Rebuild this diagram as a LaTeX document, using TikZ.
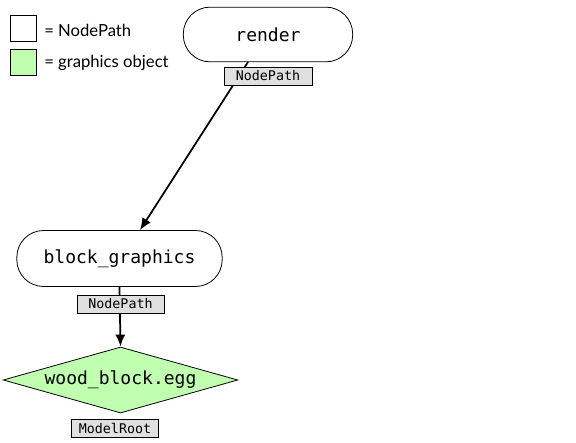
\documentclass[tikz,border=0pt]{standalone}
\usepackage{fontspec}
\setmainfont{Lato}
\setmonofont{DejaVu Sans Mono}
\usetikzlibrary{shapes.geometric,arrows.meta}
\definecolor{gobj}{HTML}{C0FFB0}
\definecolor{lblgray}{HTML}{E0E0E0}
\begin{document}
\begin{tikzpicture}[x=0.75pt,y=-0.75pt,
  pathnode/.style={draw,line width=0.6pt,fill=white,rectangle,rounded corners=20pt,minimum width=127pt,minimum height=41pt,font=\ttfamily\fontsize{13.5}{15}\selectfont,inner sep=0pt},
  gnode/.style={draw,line width=0.6pt,fill=gobj,diamond,aspect=3.56,minimum width=176pt,minimum height=49.5pt,inner sep=0pt,font=\ttfamily\fontsize{13.5}{15}\selectfont},
  tag/.style={draw,line width=0.5pt,fill=lblgray,minimum width=65pt,minimum height=13.5pt,inner sep=0pt,font=\ttfamily\fontsize{10}{11}\selectfont},
  legbox/.style={draw,line width=0.6pt,minimum width=20pt,minimum height=20pt,inner sep=0pt},
  legtxt/.style={anchor=west,inner sep=0pt,font=\fontsize{12.5}{14}\selectfont},
  conn/.style={line width=1.3pt,-{Latex[length=9pt,width=7.5pt]}}]
\useasboundingbox (0,0) rectangle (576,443);
\node[legbox,fill=white] (lb1) at (23.5,28.5) {};
\node[legtxt] (lt1) at (44,30) {= NodePath};
\node[legbox,fill=gobj] (lb2) at (23.5,62.5) {};
\node[legtxt] (lt2) at (44,63) {= graphics object};

\node[pathnode] (render) at (268,34.5) {render};
\node[pathnode,minimum width=154pt,minimum height=42pt] (block) at (119.5,258.5) {block\_graphics};
\node[gnode] (wood) at (120.5,380) {wood\_block.egg};

\draw[conn] (248,62) -- (block.north -| 140,0);
\draw[conn] (block.south) -- (wood.north);

\node[tag,minimum width=66pt] (t1) at (268,76) {NodePath};
\node[tag] (t2) at (120.5,304) {NodePath};
\node[tag] (t3) at (115,428) {ModelRoot};
\end{tikzpicture}
\end{document}
